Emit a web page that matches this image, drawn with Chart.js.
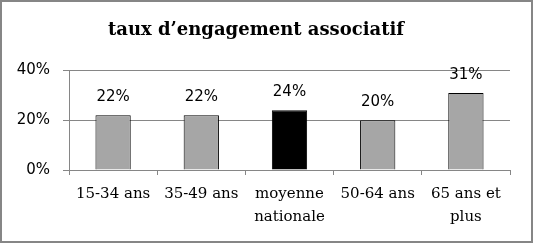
<!DOCTYPE html>
<html>
<head>
<meta charset="utf-8">
<script src="https://cdn.jsdelivr.net/npm/chart.js@4/dist/chart.umd.min.js"></script>
<style>
  html, body { margin: 0; padding: 0; background: #fff; }
  #wrap { width: 533px; height: 243px; box-sizing: border-box; border: 2px solid #868686; }
  #chart { display: block; }
</style>
</head>
<body>
<div id="wrap"><canvas id="chart" width="529" height="239"></canvas></div>
<script>
// donnees
const categories = [['15-34 ans'], ['35-49 ans'], ['moyenne', 'nationale'], ['50-64 ans'], ['65 ans et', 'plus']];
const taux = [22, 22, 24, 20, 31];
const couleurs = ['#a6a6a6', '#a6a6a6', '#000000', '#a6a6a6', '#a6a6a6'];
const titre = 'taux d\u2019engagement associatif';

const gridColor = '#868686';

// etiquettes de valeur au-dessus des barres
const valueLabels = {
    id: 'valueLabels',
    afterDatasetsDraw(chart) {
        let ctx = chart.ctx;
        let meta = chart.getDatasetMeta(0);
        ctx.save();
        ctx.font = '15px "DejaVu Sans"';
        ctx.fillStyle = '#000';
        ctx.textAlign = 'center';
        ctx.textBaseline = 'middle';
        meta.data.forEach(function(bar, i) {
            ctx.fillText(taux[i] + '%', bar.x, bar.y - 18);
        });
        ctx.restore();
    }
};

const chart = new Chart(document.getElementById('chart'), {
    type: 'bar',
    data: {
        labels: categories,
        datasets: [{
            data: taux,
            backgroundColor: couleurs,
            borderColor: '#000',
            borderWidth: 1,
            barPercentage: 0.8,
            categoryPercentage: 0.5
        }]
    },
    options: {
        responsive: false,
        animation: false,
        events: [],
        layout: { padding: { top: 0, right: 21, bottom: 0, left: 0 } },
        plugins: {
            legend: { display: false },
            tooltip: { enabled: false },
            title: {
                display: true,
                text: titre,
                color: '#000',
                font: { family: '"DejaVu Serif"', size: 18, weight: 'bold' },
                padding: { top: 18, bottom: 29 }
            }
        },
        scales: {
            x: {
                grid: { drawOnChartArea: false, drawTicks: true, tickLength: 5, color: gridColor, offset: true },
                border: { color: gridColor },
                ticks: {
                    color: '#000',
                    padding: 8,
                    maxRotation: 0,
                    autoSkip: false,
                    font: { family: '"DejaVu Serif"', size: 15, lineHeight: 1.5 }
                },
                afterFit: function(s) { s.height = 71; }
            },
            y: {
                min: 0,
                max: 40,
                ticks: {
                    stepSize: 20,
                    color: '#000',
                    padding: 13,
                    font: { family: '"DejaVu Sans"', size: 15 },
                    callback: function(v) { return v + '%'; }
                },
                grid: { color: gridColor, tickLength: 6 },
                border: { color: gridColor },
                afterFit: function(s) { s.width = 67; }
            }
        }
    },
    plugins: [valueLabels]
});
</script>
</body>
</html>
